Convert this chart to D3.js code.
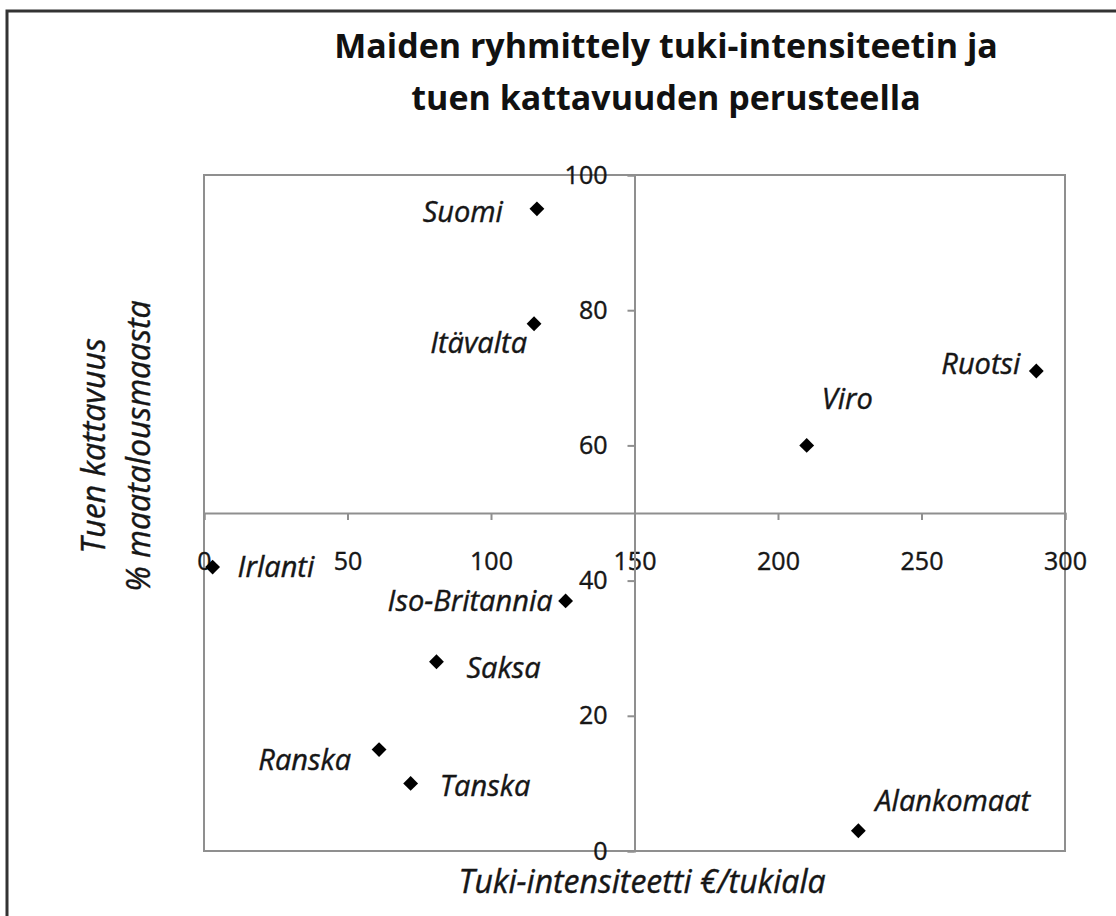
<!DOCTYPE html>
<html>
<head>
<meta charset="utf-8">
<script src="https://cdn.jsdelivr.net/npm/d3@7"></script>
<style>
  html, body { margin: 0; padding: 0; background: #fff; }
  svg { display: block; }
</style>
</head>
<body>
<svg id="chart" width="1116" height="916"></svg>
<script>
// ---- data ----
const countries = ["Suomi", "Itävalta", "Viro", "Ruotsi", "Irlanti", "Iso-Britannia", "Saksa", "Ranska", "Tanska", "Alankomaat"];
const intensity = [116, 115, 210, 290, 3, 126, 81, 61, 72, 228];   // €/tukiala
const coverage  = [95, 78, 60, 71, 42, 37, 28, 15, 10, 3];          // % maatalousmaasta
const xTicks = [0, 50, 100, 150, 200, 250, 300];
const yTicks = [0, 20, 40, 60, 80, 100];
const titleLines = ["Maiden ryhmittely tuki-intensiteetin ja", "tuen kattavuuden perusteella"];
const xTitle = "Tuki-intensiteetti €/tukiala";
const yTitleLines = ["Tuen kattavuus", "% maatalousmaasta"];

// ---- layout (label placement relative to each marker) ----
const labelPlace = {
  "Suomi":         {anchor: "end",   dx: -34, dy: 3},
  "Itävalta":      {anchor: "end",   dx: -7,  dy: 19},
  "Viro":          {anchor: "start", dx: 15,  dy: -47},
  "Ruotsi":        {anchor: "end",   dx: -16, dy: -7},
  "Irlanti":       {anchor: "start", dx: 25,  dy: 0},
  "Iso-Britannia": {anchor: "end",   dx: -13, dy: 0},
  "Saksa":         {anchor: "start", dx: 30,  dy: 6},
  "Ranska":        {anchor: "end",   dx: -28, dy: 10},
  "Tanska":        {anchor: "start", dx: 29,  dy: 2},
  "Alankomaat":    {anchor: "start", dx: 17,  dy: -30}
};

const FONT = "'Open Sans', 'DejaVu Sans', sans-serif";
const INK = "#161616";
const svg = d3.select("#chart");

const plot = {left: 204, right: 1065, top: 175, bottom: 851};
const x = d3.scaleLinear().domain([0, 300]).range([plot.left, plot.right]);
const y = d3.scaleLinear().domain([0, 100]).range([plot.bottom, plot.top]);

// outer frame (only left and top edges visible in the reference)
svg.append("rect")
  .attr("x", 7).attr("y", 11).attr("width", 1200).attr("height", 1000)
  .attr("fill", "none").attr("stroke", "#333").attr("stroke-width", 3);

// title
svg.append("g").selectAll("text").data(titleLines).join("text")
  .attr("x", 666).attr("y", (d, i) => 58 + i * 52)
  .attr("text-anchor", "middle")
  .attr("font-family", FONT).attr("font-weight", "bold").attr("font-size", 34)
  .attr("fill", "#111")
  .text(d => d);

// plot area border
svg.append("rect")
  .attr("x", plot.left).attr("y", plot.top)
  .attr("width", plot.right - plot.left).attr("height", plot.bottom - plot.top)
  .attr("fill", "none").attr("stroke", "#8f8f8f").attr("stroke-width", 2);

// x axis crossing at y = 50
const xAxis = svg.append("g")
  .attr("transform", `translate(0,${y(50)})`)
  .call(d3.axisBottom(x).tickValues(xTicks).tickSize(7).tickPadding(32).tickFormat(d3.format("d")));
// y axis crossing at x = 150
const yAxis = svg.append("g")
  .attr("transform", `translate(${x(150)},0)`)
  .call(d3.axisLeft(y).tickValues(yTicks).tickSize(7).tickPadding(20).tickFormat(d3.format("d")));

[xAxis, yAxis].forEach(g => {
  g.select(".domain").attr("stroke", "#8f8f8f").attr("stroke-width", 2);
  g.selectAll(".tick line").attr("stroke", "#8f8f8f").attr("stroke-width", 2);
  g.selectAll(".tick text").attr("font-family", FONT).attr("font-size", 25)
    .attr("fill", INK).attr("stroke", INK).attr("stroke-width", 0.4);
});

// axis titles
svg.append("text")
  .attr("x", 642).attr("y", 893)
  .attr("text-anchor", "middle")
  .attr("font-family", FONT).attr("font-style", "italic").attr("font-size", 32)
  .attr("fill", INK).attr("stroke", INK).attr("stroke-width", 0.4)
  .text(xTitle);

svg.append("g").attr("transform", "translate(0,446) rotate(-90)")
  .selectAll("text").data(yTitleLines).join("text")
  .attr("x", 0).attr("y", (d, i) => 105 + i * 45)
  .attr("text-anchor", "middle")
  .attr("font-family", FONT).attr("font-style", "italic").attr("font-size", 32)
  .attr("fill", INK).attr("stroke", INK).attr("stroke-width", 0.4)
  .text(d => d);

// points
const pts = countries.map((c, i) => ({name: c, xv: intensity[i], yv: coverage[i]}));
const sym = d3.symbol().type(d3.symbolSquare).size(110);
svg.append("g").selectAll("path").data(pts).join("path")
  .attr("d", sym)
  .attr("transform", d => `translate(${x(d.xv)},${y(d.yv)}) rotate(45)`)
  .attr("fill", "#000");

// point labels
svg.append("g").selectAll("text").data(pts).join("text")
  .attr("x", d => x(d.xv) + labelPlace[d.name].dx)
  .attr("y", d => y(d.yv) + labelPlace[d.name].dy)
  .attr("dy", "0.35em")
  .attr("text-anchor", d => labelPlace[d.name].anchor)
  .attr("font-family", FONT).attr("font-style", "italic").attr("font-size", 29)
  .attr("fill", INK).attr("stroke", INK).attr("stroke-width", 0.4)
  .text(d => d.name);
</script>
</body>
</html>
